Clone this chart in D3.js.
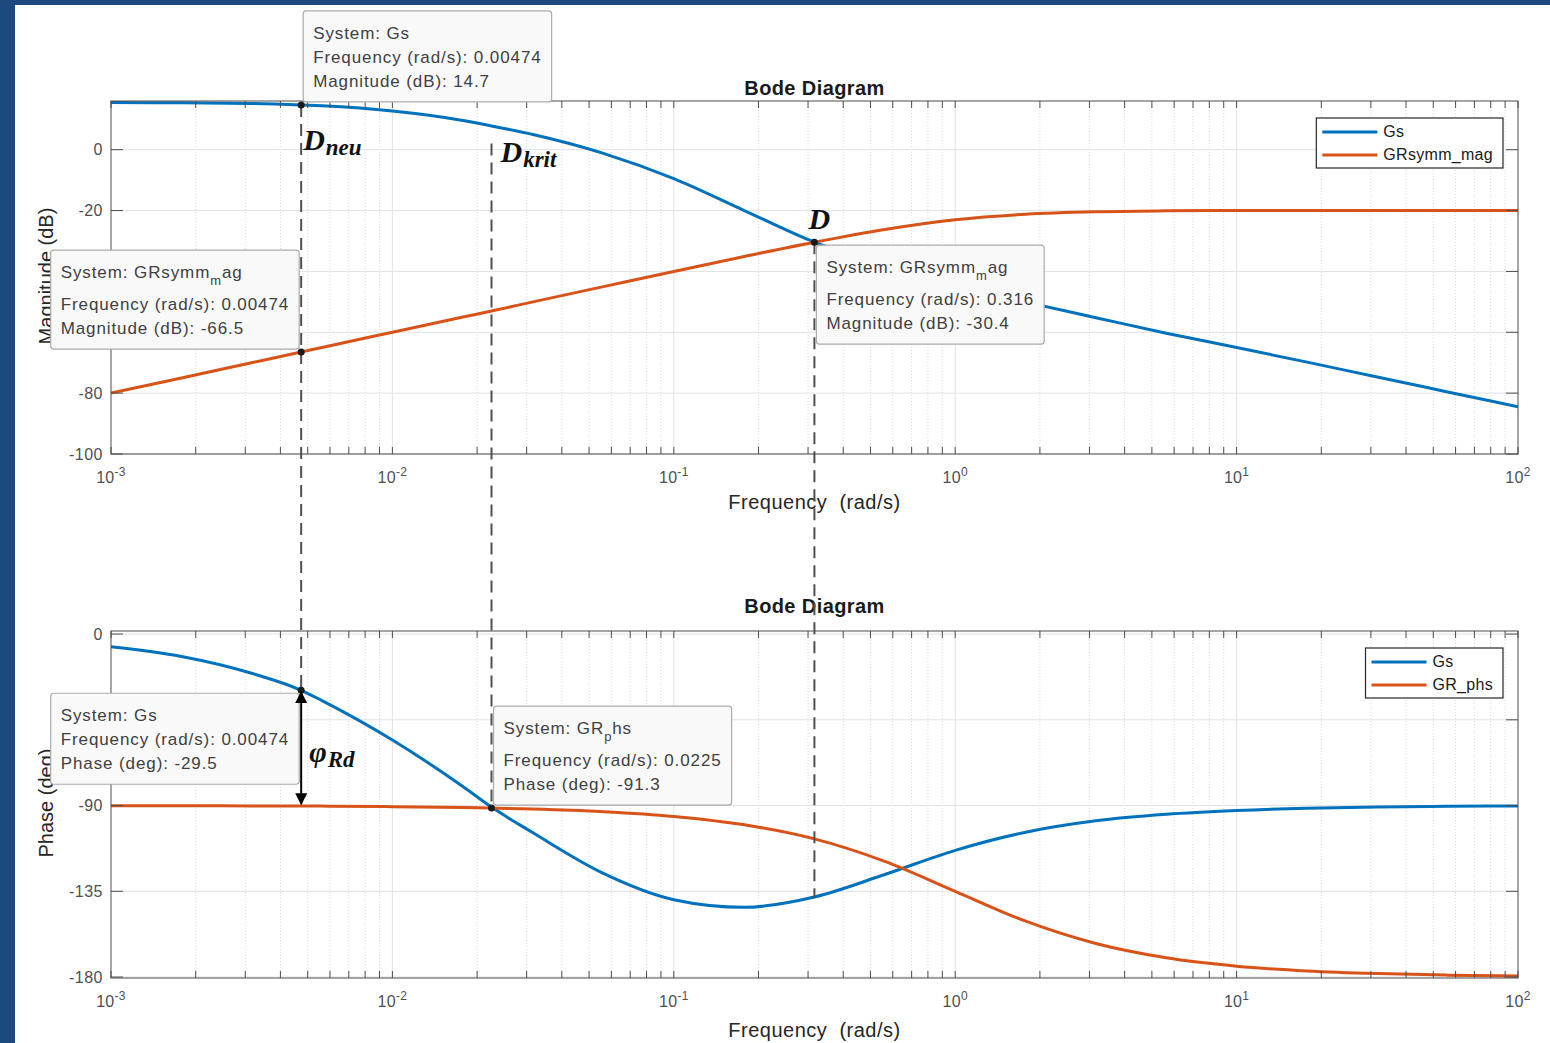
<!DOCTYPE html>
<html>
<head>
<meta charset="utf-8">
<script src="https://cdn.jsdelivr.net/npm/d3@7"></script>
<style>
  body { margin: 0; background: #1c4a7e; }
  svg { display: block; }
</style>
</head>
<body>
<svg id="chart" width="1550" height="1043"></svg>
<script>
// ---- Frequency response data (rad/s, dB, deg) ----
const freqs     = [0.001, 0.00178, 0.00316, 0.00474, 0.00562, 0.01, 0.0178, 0.0225, 0.0316, 0.0562, 0.1, 0.178, 0.316, 0.562, 1, 1.78, 3.16, 5.62, 10, 17.8, 31.6, 56.2, 100];
const gsMag     = [15.5, 15.4, 15.2, 14.7, 14.4, 12.7, 9.6, 7.8, 5.0, -1.2, -9.5, -20.0, -30.4, -38.2, -44.6, -50.1, -55.2, -60.3, -65.0, -69.8, -74.7, -79.6, -84.5];
const grMag     = [-80.0, -75.0, -70.0, -66.5, -65.0, -60.0, -55.0, -53.0, -50.0, -45.0, -40.0, -35.1, -30.4, -26.2, -23.0, -21.2, -20.4, -20.1, -20.0, -20.0, -20.0, -20.0, -20.0];
const gsPhase   = [-6.7, -11.8, -20.6, -29.5, -34.9, -55.6, -80.0, -90.8, -104.3, -125.6, -139.4, -143.4, -138.0, -126.2, -113.5, -104.0, -98.0, -94.6, -92.6, -91.4, -90.8, -90.4, -90.2];
const grPhase   = [-90.1, -90.1, -90.2, -90.3, -90.3, -90.6, -91.0, -91.3, -91.8, -93.2, -95.7, -100.1, -107.5, -119.3, -135.0, -150.7, -162.4, -169.9, -174.3, -176.8, -178.2, -179.0, -179.4];

// ---- Axis ticks (labelled subset: the rest sit under the data tips) ----
const decadeExps      = [-3, -2, -1, 0, 1, 2];
const magTicks        = [-100, -80, -60, -40, -20, 0];
const magTickLabels   = [-100, -80, -20, 0];
const phaseTicks      = [-180, -135, -90, -45, 0];
const phaseTickLabels = [-180, -135, -90, 0];

// ---- Legends ----
const magLegend   = ['Gs', 'GRsymm_mag'];
const phaseLegend = ['Gs', 'GR_phs'];

// ---- Data tips ----
const tipSystem = ['Gs', 'GRsymm_mag', 'GRsymm_mag', 'Gs', 'GR_phs'];
const tipFreq   = [0.00474, 0.00474, 0.316, 0.00474, 0.0225];
const tipValue  = [14.7, -66.5, -30.4, -29.5, -91.3];
const tipPanel  = ['mag', 'mag', 'mag', 'phase', 'phase'];
const tipCorner = ['ne', 'nw', 'se', 'sw', 'ne'];

// ---- Guide lines: frequency, top end (dB), bottom end (deg) ----
const guideFreq   = [0.00474, 0.0225, 0.316];
const guideTopDb  = [14.7, 2, -30.4];
const guideBotDeg = [-29.5, -91.3, -138.5];

const W = 1550, H = 1043;
const BLUE = '#0072bd', ORANGE = '#d95319';
const FONT = '"Liberation Sans", Arial, Helvetica, sans-serif';
const SERIF = '"Liberation Serif", "Times New Roman", serif';

const svg = d3.select('#chart');
svg.append('rect').attr('width', W).attr('height', H).attr('fill', '#1c4a7e');
svg.append('rect').attr('x', 15).attr('y', 5).attr('width', W - 15).attr('height', H - 5).attr('fill', '#ffffff');

const x    = d3.scaleLog().domain([1e-3, 1e2]).range([111, 1518]);
const yMag = d3.scaleLinear().domain([-100, 16]).range([454, 101]);
const yPh  = d3.scaleLinear().domain([-180.5, 1.6]).range([978, 631]);
const yOf  = { mag: yMag, phase: yPh };

const minorVals = [];
decadeExps.slice(0, -1).forEach(e => { for (let m = 2; m <= 9; m++) minorVals.push(m * Math.pow(10, e)); });
const majorVals = decadeExps.map(e => Math.pow(10, e));

let clipId = 0;
function panel(y, yTicks, yLabels, series, legendNames, title, titleY, xlabelY, ylabel, ylabelY) {
  const [x0, x1] = x.range();
  const y0 = y.range()[1], y1 = y.range()[0];
  const g = svg.append('g');

  // grid
  g.selectAll('line.minor').data(minorVals).join('line')
    .attr('x1', d => x(d)).attr('x2', d => x(d)).attr('y1', y0).attr('y2', y1)
    .attr('stroke', '#d9d9d9').attr('stroke-width', 1).attr('stroke-dasharray', '1,2');
  g.selectAll('line.major').data(majorVals.slice(1, -1)).join('line')
    .attr('x1', d => x(d)).attr('x2', d => x(d)).attr('y1', y0).attr('y2', y1)
    .attr('stroke', '#e2e2e2').attr('stroke-width', 1);
  g.selectAll('line.hgrid').data(yTicks).join('line')
    .attr('x1', x0).attr('x2', x1).attr('y1', d => y(d)).attr('y2', d => y(d))
    .attr('stroke', '#e2e2e2').attr('stroke-width', 1);

  // curves
  const id = 'clip' + (clipId++);
  svg.append('clipPath').attr('id', id).append('rect')
    .attr('x', x0).attr('y', y0 - 2).attr('width', x1 - x0).attr('height', y1 - y0 + 4);
  const line = d3.line().x((d, i) => x(freqs[i])).y(d => y(d)).curve(d3.curveMonotoneX);
  series.forEach(s => {
    g.append('path').attr('d', line(s.values)).attr('fill', 'none')
      .attr('stroke', s.color).attr('stroke-width', 3).attr('clip-path', `url(#${id})`);
  });

  // axes box and ticks
  g.append('rect').attr('x', x0).attr('y', y0).attr('width', x1 - x0).attr('height', y1 - y0)
    .attr('fill', 'none').attr('stroke', '#4d4d4d').attr('stroke-width', 1);
  const xt = majorVals.concat(minorVals);
  g.selectAll('line.xtb').data(xt).join('line')
    .attr('x1', d => x(d)).attr('x2', d => x(d)).attr('y1', y1).attr('y2', y1 - 7)
    .attr('stroke', '#4d4d4d');
  g.selectAll('line.xtt').data(xt).join('line')
    .attr('x1', d => x(d)).attr('x2', d => x(d)).attr('y1', y0).attr('y2', y0 + 7)
    .attr('stroke', '#4d4d4d');
  g.selectAll('line.ytl').data(yTicks).join('line')
    .attr('x1', x0).attr('x2', x0 + 12).attr('y1', d => y(d)).attr('y2', d => y(d))
    .attr('stroke', '#4d4d4d');
  g.selectAll('line.ytr').data(yTicks).join('line')
    .attr('x1', x1).attr('x2', x1 - 12).attr('y1', d => y(d)).attr('y2', d => y(d))
    .attr('stroke', '#4d4d4d');

  // tick labels
  g.selectAll('text.ylab').data(yLabels).join('text')
    .attr('x', x0 - 8).attr('y', d => y(d)).attr('dy', '0.35em')
    .attr('text-anchor', 'end').attr('font-family', FONT).attr('font-size', 16)
    .attr('letter-spacing', 0.5).attr('fill', '#505050').text(d => d);
  const xl = g.selectAll('text.xlab').data(decadeExps).join('text')
    .attr('x', e => x(Math.pow(10, e))).attr('y', y1 + 29)
    .attr('text-anchor', 'middle').attr('font-family', FONT).attr('font-size', 16)
    .attr('letter-spacing', 0.3).attr('fill', '#505050');
  xl.append('tspan').text('10');
  xl.append('tspan').attr('dy', -7).attr('font-size', 12).text(e => e);

  // titles and labels
  g.append('text').attr('x', (x0 + x1) / 2).attr('y', titleY).attr('text-anchor', 'middle')
    .attr('font-family', FONT).attr('font-size', 20).attr('font-weight', 'bold')
    .attr('letter-spacing', 0.4).attr('fill', '#1a1a1a').text(title);
  g.append('text').attr('x', (x0 + x1) / 2).attr('y', xlabelY).attr('text-anchor', 'middle')
    .attr('font-family', FONT).attr('font-size', 20).attr('letter-spacing', 0.5).attr('fill', '#262626')
    .attr('xml:space', 'preserve').text('Frequency  (rad/s)');
  g.append('text').attr('transform', `translate(53,${ylabelY}) rotate(-90)`).attr('text-anchor', 'middle')
    .attr('font-family', FONT).attr('font-size', 20).attr('fill', '#262626').text(ylabel);

  // legend
  const lg = svg.append('g');
  const items = legendNames.map((n, i) => ({ name: n, color: series[i].color }));
  const texts = lg.selectAll('text').data(items).join('text')
    .attr('font-family', FONT).attr('font-size', 16).attr('letter-spacing', 0.3)
    .attr('fill', '#1a1a1a').text(d => d.name);
  const tw = d3.max(texts.nodes(), n => n.getComputedTextLength());
  const lw = 6 + 55 + 6 + tw + 10, lh = 50;
  const lx = x1 - 15 - lw, ly = y0 + 17;
  lg.insert('rect', 'text').attr('x', lx).attr('y', ly).attr('width', lw).attr('height', lh)
    .attr('fill', '#ffffff').attr('stroke', '#262626').attr('stroke-width', 1.2);
  items.forEach((d, i) => {
    lg.append('line').attr('x1', lx + 6).attr('x2', lx + 61)
      .attr('y1', ly + 14 + i * 23).attr('y2', ly + 14 + i * 23)
      .attr('stroke', d.color).attr('stroke-width', 3);
  });
  texts.attr('x', lx + 67).attr('y', (d, i) => ly + 19 + i * 23);
}

panel(yMag, magTicks, magTickLabels,
  [{ values: gsMag, color: BLUE }, { values: grMag, color: ORANGE }],
  magLegend, 'Bode Diagram', 95, 509, 'Magnitude (dB)', 276);
panel(yPh, phaseTicks, phaseTickLabels,
  [{ values: gsPhase, color: BLUE }, { values: grPhase, color: ORANGE }],
  phaseLegend, 'Bode Diagram', 613, 1037, 'Phase (deg)', 803);

// dashed guide lines across both panels
svg.selectAll('line.guide').data(guideFreq).join('line')
  .attr('x1', d => x(d)).attr('x2', d => x(d))
  .attr('y1', (d, i) => yMag(guideTopDb[i])).attr('y2', (d, i) => yPh(guideBotDeg[i]))
  .attr('stroke', '#505050').attr('stroke-width', 2).attr('stroke-dasharray', '12,7');

// MATLAB-style TeX: "_c" puts the single next character in subscript
function addTexLine(t, str) {
  let i = 0, hasSub = false, buf = '', raise = 0;
  const flush = () => {
    if (buf) {
      const s = t.append('tspan').text(buf);
      if (raise) { s.attr('dy', -raise); raise = 0; }
      buf = '';
    }
  };
  while (i < str.length) {
    if (str[i] === '_' && i + 1 < str.length) {
      flush();
      t.append('tspan').attr('dy', 7).attr('font-size', 13).text(str[i + 1]);
      raise = 7; hasSub = true; i += 2;
    } else { buf += str[i]; i++; }
  }
  flush();
  return hasSub;
}

// data tips
tipSystem.forEach((sys, k) => {
  const y = yOf[tipPanel[k]];
  const px = x(tipFreq[k]), py = y(tipValue[k]);
  const valLabel = tipPanel[k] === 'mag' ? 'Magnitude (dB): ' : 'Phase (deg): ';
  const lines = ['System: ' + sys, 'Frequency (rad/s): ' + tipFreq[k], valLabel + tipValue[k]];

  const g = svg.append('g');
  const box = g.append('rect');
  let by = 28;
  const texts = [];
  lines.forEach(ln => {
    const t = g.append('text').attr('font-family', FONT).attr('font-size', 17)
      .attr('letter-spacing', 0.9).attr('fill', '#404040');
    const sub = addTexLine(t, ln);
    texts.push({ t, off: by });
    by += sub ? 32 : 24;
  });
  const bh = texts[texts.length - 1].off + 15;
  const bw = d3.max(texts, d => d.t.node().getComputedTextLength()) + 20;
  const c = tipCorner[k];
  const bx = c[1] === 'e' ? px + 2 : px - 2 - bw;
  const byTop = c[0] === 'n' ? py - 3 - bh : py + 3;
  box.attr('x', bx).attr('y', byTop).attr('width', bw).attr('height', bh).attr('rx', 3)
    .attr('fill', '#f9f9f9').attr('stroke', '#ababab').attr('stroke-width', 1.2);
  texts.forEach(d => d.t.attr('x', bx + 10).attr('y', byTop + d.off));

  svg.append('circle').attr('cx', px).attr('cy', py).attr('r', 3.5).attr('fill', '#1a1a1a');
});

// annotation labels
function serifLabel(px, py, main, sub) {
  const t = svg.append('text').attr('x', px).attr('y', py)
    .attr('font-family', SERIF).attr('font-style', 'italic').attr('font-weight', 'bold')
    .attr('font-size', 30).attr('fill', '#111');
  t.append('tspan').text(main);
  if (sub) t.append('tspan').attr('dx', 1).attr('dy', 5).attr('font-size', 23).text(sub);
}
serifLabel(x(guideFreq[0]) + 2, yMag(0), 'D', 'neu');
serifLabel(x(guideFreq[1]) + 9, yMag(-4), 'D', 'krit');
serifLabel(x(guideFreq[2]) - 6, yMag(-26), 'D', '');
serifLabel(x(guideFreq[0]) + 8, yPh(-67), 'φ', 'Rd');

// phase-margin arrow between the two phase curves
const defs = svg.append('defs');
defs.append('marker').attr('id', 'ah').attr('viewBox', '0 0 10 10').attr('refX', 9).attr('refY', 5)
  .attr('markerWidth', 7).attr('markerHeight', 6).attr('orient', 'auto-start-reverse')
  .append('path').attr('d', 'M0,0 L10,5 L0,10 Z').attr('fill', '#000');
svg.append('line')
  .attr('x1', x(tipFreq[3])).attr('x2', x(tipFreq[3]))
  .attr('y1', yPh(gsPhase[3]) + 2).attr('y2', yPh(grPhase[3]) - 2)
  .attr('stroke', '#000').attr('stroke-width', 2)
  .attr('marker-start', 'url(#ah)').attr('marker-end', 'url(#ah)');
</script>
</body>
</html>
